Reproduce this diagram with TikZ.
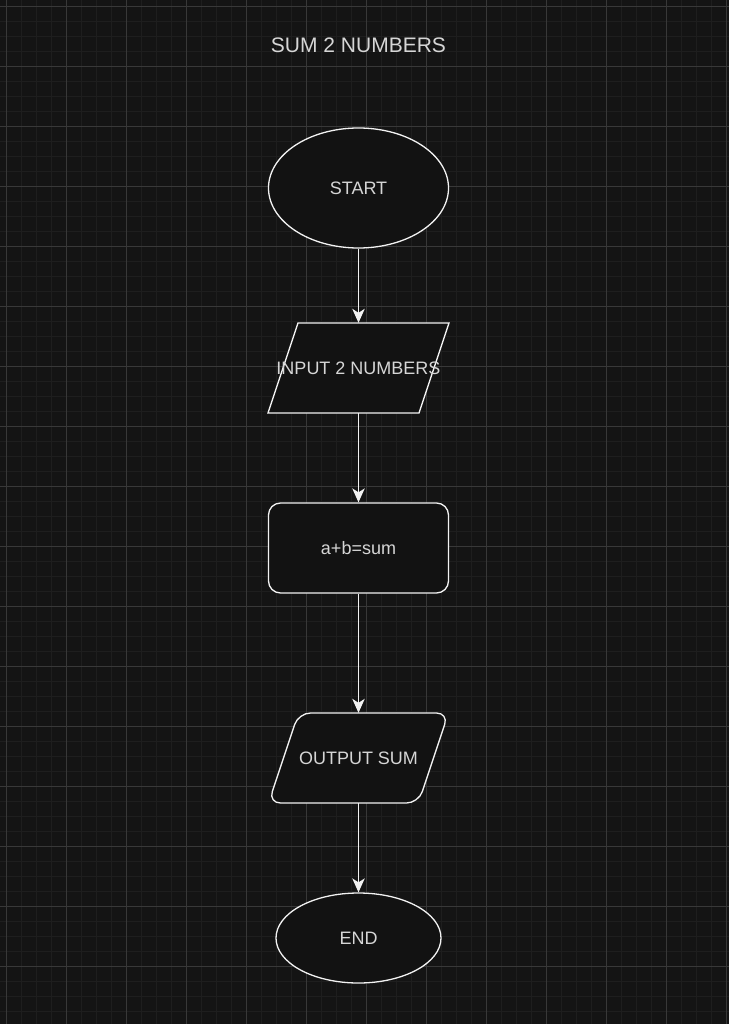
\documentclass[tikz,border=0pt]{standalone}
\usepackage{fontspec}
\setmainfont{Liberation Sans}
\usetikzlibrary{arrows.meta,positioning,shapes.geometric,calc}
\definecolor{canvas}{HTML}{141414}
\definecolor{shapefill}{HTML}{121212}
\definecolor{gridminor}{HTML}{1E1E1E}
\definecolor{gridmajor}{HTML}{383838}
\definecolor{chalk}{HTML}{F2F2F2}
\definecolor{label}{HTML}{D6D6D6}
\tikzset{
  >={Stealth[length=14pt,width=12.5pt,inset=4pt]},
  flow/.style={->,line width=1.3pt,draw=#1},
  flow/.default=chalk,
  terminal/.style={ellipse,draw=chalk,fill=shapefill,line width=1.3pt,
    minimum width=#1,text=label,font=\fontsize{18}{22}\selectfont},
  process/.style={rectangle,rounded corners=12pt,draw=chalk,fill=shapefill,line width=1.3pt,
    minimum width=180pt,minimum height=90pt,text=label,font=\fontsize{18}{22}\selectfont},
  io/.style={rectangle,minimum width=180pt,minimum height=90pt,inner sep=0pt,
    text=label,font=\fontsize{18}{22}\selectfont},
  skew/.style={draw=chalk,fill=shapefill,line width=1.3pt},
  title/.style={text=label,font=\fontsize{21}{25}\selectfont},
}
\begin{document}
\begin{tikzpicture}[x=1pt,y=-1pt]
  % canvas and grid
  \fill[canvas] (0,0) rectangle (729,1024);
  \useasboundingbox (0,0) rectangle (729,1024);
  \foreach \p in {6.5,21.5,...,1030} {
    \draw[gridminor,line width=1pt] (\p,0) -- (\p,1024);
    \draw[gridminor,line width=1pt] (0,\p) -- (729,\p);
  }
  \foreach \p in {6.5,66.5,...,1030} {
    \draw[gridmajor,line width=1pt] (\p,0) -- (\p,1024);
    \draw[gridmajor,line width=1pt] (0,\p) -- (729,\p);
  }

  \node[title] (heading) at (358.5,45) {SUM 2 NUMBERS};

  \node[terminal=180pt,minimum height=120pt] (start) at (358.5,188) {START};

  % input parallelogram
  \coordinate (inp) at (358.5,368);
  \draw[skew] ($(inp)+(-60.5,-45)$) -- ($(inp)+(90.5,-45)$) -- ($(inp)+(60.5,45)$) -- ($(inp)+(-90.5,45)$) -- cycle;
  \node[io] (input) at (inp) {INPUT 2 NUMBERS};

  \node[process] (calc) at (358.5,548) {a+b=sum};

  % output parallelogram
  \coordinate (outp) at (358.5,758);
  \draw[skew,rounded corners=12pt] ($(outp)+(-60,-45)$) -- ($(outp)+(90,-45)$) -- ($(outp)+(60,45)$) -- ($(outp)+(-90,45)$) -- cycle;
  \node[io] (output) at (outp) {OUTPUT SUM};

  \node[terminal=165pt,minimum height=90pt] (stop) at (358.5,938) {END};

  \draw[flow] (start) -- (input);
  \draw[flow] (input) -- (calc);
  \draw[flow] (calc) -- (output);
  \draw[flow] (output) -- (stop);
\end{tikzpicture}
\end{document}
